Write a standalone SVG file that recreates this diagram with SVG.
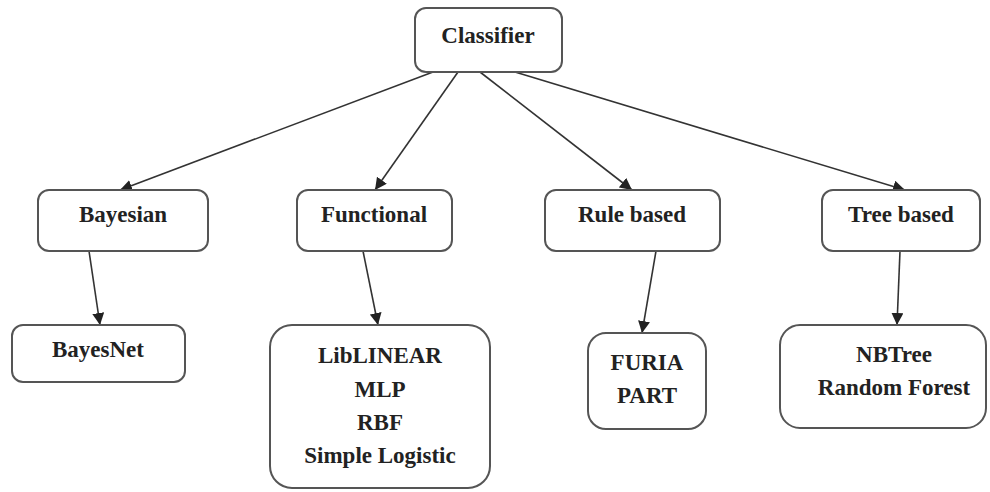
<svg xmlns="http://www.w3.org/2000/svg" width="990" height="492" viewBox="0 0 990 492">
  <defs>
    <marker id="arrow" viewBox="0 0 10 10" refX="10" refY="5" markerWidth="12" markerHeight="12" markerUnits="userSpaceOnUse" orient="auto">
      <path d="M0,0 L10,5 L0,10 z" fill="#222"/>
    </marker>
  </defs>
  <style>
    .box { fill: #fff; stroke: #555; stroke-width: 2; }
    .lbl { font-weight: bold; font-size: 23px; fill: #222; text-anchor: middle; }
    .edge { stroke: #333; stroke-width: 1.6; fill: none; marker-end: url(#arrow); }
  </style>
  <rect width="990" height="492" fill="#fff"/>

  <g id="connectors">
    <line class="edge" x1="433" y1="72" x2="120" y2="190"/>
    <line class="edge" x1="458" y1="72" x2="375" y2="190"/>
    <line class="edge" x1="480" y1="72" x2="632" y2="190"/>
    <line class="edge" x1="515" y1="72" x2="905" y2="190"/>
    <line class="edge" x1="89" y1="251" x2="100" y2="325"/>
    <line class="edge" x1="363" y1="251" x2="378" y2="325"/>
    <line class="edge" x1="656" y1="251" x2="642" y2="333"/>
    <line class="edge" x1="900" y1="251" x2="897" y2="325"/>
  </g>

  <g font-family="Liberation Serif, DejaVu Serif, serif">
  <g id="classifier">
    <rect class="box" x="415" y="8" width="147" height="64" rx="11"/>
    <text class="lbl" x="488" y="43">Classifier</text>
  </g>

  <g id="bayesian">
    <rect class="box" x="38" y="190" width="170" height="61" rx="11"/>
    <text class="lbl" x="123" y="222">Bayesian</text>
  </g>
  <g id="functional">
    <rect class="box" x="297" y="190" width="155" height="61" rx="11"/>
    <text class="lbl" x="374" y="222">Functional</text>
  </g>
  <g id="rule-based">
    <rect class="box" x="545" y="190" width="175" height="61" rx="11"/>
    <text class="lbl" x="632" y="222">Rule based</text>
  </g>
  <g id="tree-based">
    <rect class="box" x="822" y="190" width="158" height="61" rx="11"/>
    <text class="lbl" x="901" y="222">Tree based</text>
  </g>

  <g id="bayesnet">
    <rect class="box" x="12" y="325" width="173" height="57" rx="11"/>
    <text class="lbl" x="98" y="357">BayesNet</text>
  </g>
  <g id="functional-methods">
    <rect class="box" x="270" y="325" width="220" height="163" rx="22"/>
    <text class="lbl" x="380" y="363">LibLINEAR</text>
    <text class="lbl" x="380" y="397">MLP</text>
    <text class="lbl" x="380" y="430">RBF</text>
    <text class="lbl" x="380" y="463">Simple Logistic</text>
  </g>
  <g id="rule-methods">
    <rect class="box" x="588" y="333" width="118" height="96" rx="18"/>
    <text class="lbl" x="647" y="370">FURIA</text>
    <text class="lbl" x="647" y="403">PART</text>
  </g>
  <g id="tree-methods">
    <rect class="box" x="780" y="325" width="206" height="103" rx="20"/>
    <text class="lbl" x="894" y="362">NBTree</text>
    <text class="lbl" x="894" y="395">Random Forest</text>
  </g>
  </g>
</svg>
